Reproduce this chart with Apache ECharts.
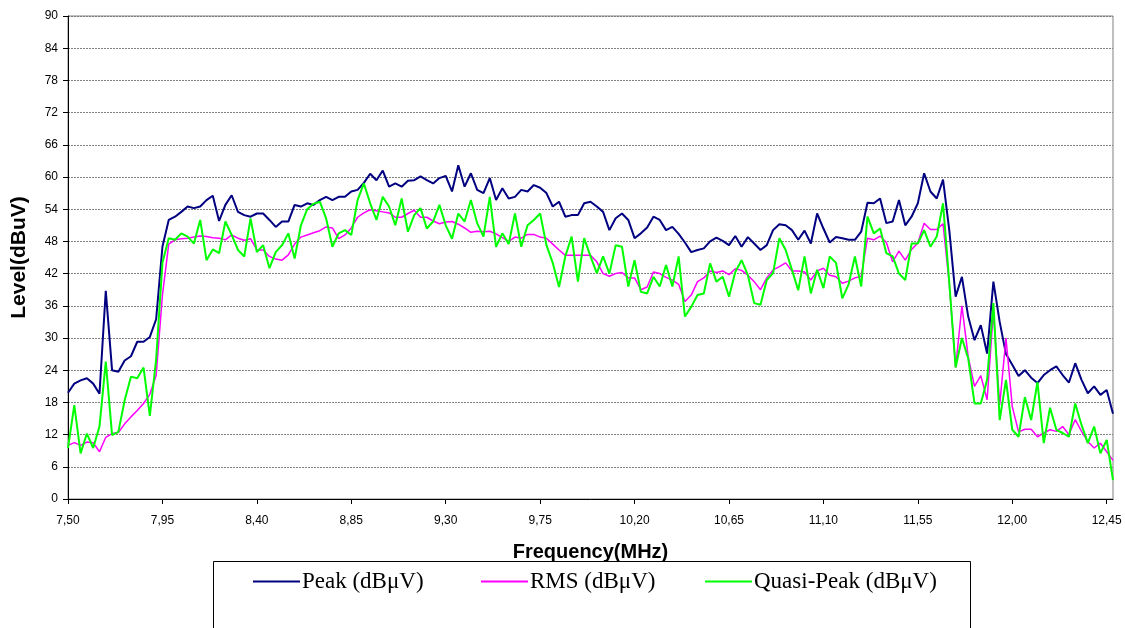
<!DOCTYPE html>
<html>
<head>
<meta charset="utf-8">
<script src="https://cdn.jsdelivr.net/npm/echarts@6/dist/echarts.min.js"></script>
<style>
  html, body { margin: 0; padding: 0; background: #fff; }
  #chart { width: 1125px; height: 628px; }
</style>
</head>
<body>
<div id="chart"></div>
<script>
// frequency grid, 7.50 .. 12.48 MHz, step 0.03
var freq = [];
for (var i = 0; i < 167; i++) { freq.push((7.5 + 0.03 * i).toFixed(2)); }

var peak = [
  19.8, 21.5, 22.1, 22.5, 21.5, 19.6, 38.8, 24.0, 23.7, 25.8,
  26.6, 29.3, 29.3, 30.2, 33.5, 47, 52, 52.6, 53.5, 54.5,
  54.2, 54.5, 55.7, 56.5, 51.8, 54.8, 56.6, 53.5, 52.9, 52.6,
  53.2, 53.2, 52, 50.7, 51.7, 51.7, 54.8, 54.5, 55.1, 54.8,
  55.7, 56.3, 55.7, 56.3, 56.3, 57.3, 57.6, 58.9, 60.6, 59.4,
  61.2, 58.2, 58.8, 58.2, 59.3, 59.4, 60.1, 59.4, 58.8, 59.8,
  60.2, 57.3, 62.2, 58.2, 60.7, 57.6, 57, 59.8, 55.7, 57.9,
  56, 56.3, 57.6, 57.3, 58.5, 58, 57, 54.5, 55.4, 52.6,
  52.9, 52.9, 55.1, 55.4, 54.5, 53.5, 50.1, 52.3, 53.2, 52,
  48.6, 49.5, 50.6, 52.6, 52, 50.1, 50.7, 49.4, 47.8, 46,
  46.4, 46.7, 48, 48.7, 48.1, 47.3, 49, 47, 48.8, 47.6,
  46.4, 47.3, 50.1, 51.2, 51, 50.1, 48.3, 50, 47.6, 53.2,
  50.4, 47.8, 48.8, 48.6, 48.3, 48.3, 49.8, 55.2, 55.1, 56,
  51.4, 51.7, 55.7, 51, 52.6, 55.1, 60.7, 57.3, 56, 59.5,
  50, 37.7, 41.4, 34, 29.6, 32.4, 27.1, 40.5, 33, 27,
  25, 22.9, 24, 22.6, 21.6, 23.1, 24, 24.7, 23.1, 21.7,
  25.3, 22.2, 19.7, 21, 19.4, 20.3, 15.9
];

var rms = [
  10.0, 10.5, 10.0, 10.6, 10.5, 8.8, 11.5, 12.2, 12.4, 14,
  15.3, 16.5, 17.8, 19.5, 23, 38, 47.5, 48.3, 48.5, 48.6,
  48.8, 49, 48.9, 48.7, 48.6, 48.3, 49.2, 48.6, 48.2, 48.5,
  46.4, 46.4, 45.2, 44.7, 44.5, 45.5, 47.5, 48.8, 49.2, 49.6,
  50, 50.7, 50.5, 48.5, 49.2, 50.5, 52.5, 53.3, 53.9, 53.7,
  53.5, 53.3, 52.5, 52.5, 53.2, 53.8, 52.5, 52.5, 51.8, 51.3,
  51.6, 51.7, 51.2, 50.5, 49.7, 49.9, 49.8, 49.9, 49.4, 48.7,
  48, 48.8, 48.6, 49.3, 49.3, 48.8, 48.6, 47.5, 46.4, 45.4,
  45.4, 45.4, 45.4, 45.4, 44.2, 42, 41.5, 42, 42.2, 41.2,
  41.2, 39, 39.5, 42.3, 42, 41.3, 40.8, 40, 36.8, 38,
  40.5, 41.2, 42.5, 42.2, 42.5, 41.8, 42.9, 42.6, 41.7, 40.5,
  39, 41.2, 42.7, 43.3, 44, 42.5, 42.5, 42.3, 40.8, 42.5,
  43, 41.7, 41.4, 40.2, 40.6, 41.2, 41.5, 48.6, 48.3, 49,
  47.8, 44.2, 46.2, 44.5, 46.5, 47.7, 51.4, 50.2, 50.2, 51.3,
  40, 24.5, 36, 26.5, 21, 23, 18.5, 35, 17.5, 30,
  17.2, 12.5, 13, 13, 11.6, 12.3, 12.9, 12.6, 13.5, 12,
  14.8, 12.6, 10.7, 9.5, 10.4, 8.8, 7.2
];

var quasiPeak = [
  9.5, 17.5, 8.5, 12.2, 9.5, 13.5, 25.6, 11.9, 12.5, 18.4,
  22.8, 22.5, 24.5, 15.5, 26, 44, 48.6, 48.3, 49.5, 48.9,
  47.6, 52, 44.5, 46.5, 45.8, 51.7, 49.2, 46.4, 45.2, 52.3,
  46, 47.3, 43, 46, 47.3, 49.5, 44.8, 51, 54, 55,
  55.4, 52.3, 47, 49.5, 50.1, 49.2, 55.7, 58.8, 55.1, 52,
  56.3, 54.5, 51, 56, 49.8, 52.9, 54.2, 50.4, 51.7, 54.8,
  51, 48.5, 53.2, 51.7, 55.7, 51.4, 48.9, 56.3, 47, 49.5,
  47.5, 53.2, 47, 51, 52, 53.2, 47.3, 44, 39.5, 45.2,
  48.9, 40.5, 48.6, 45.2, 42.1, 45.2, 42, 47.3, 47, 39.6,
  44.5, 38.6, 38.3, 41.4, 39.6, 43.6, 39.6, 45.2, 34, 35.8,
  38, 38.3, 43.9, 40.5, 41.4, 37.7, 42.3, 44.5, 41.7, 36.5,
  36.2, 40.8, 42.1, 48.6, 46.4, 42.7, 38.9, 45.2, 38.3, 42.7,
  39.3, 45.2, 44, 37.4, 40, 45.2, 39.6, 52.6, 49.5, 50.4,
  45.8, 45.2, 42, 40.8, 47.6, 47.6, 50.1, 47, 48.9, 55.1,
  40.2, 24.5, 30, 26.2, 17.8, 17.8, 22.2, 36.5, 14.7, 22.2,
  12.9, 11.6, 19, 14.7, 21.8, 10.4, 17, 12.9, 12.3, 11.6,
  17.8, 13.8, 10.4, 13.5, 8.5, 11, 3.5
];

var seriesNames = ['Peak (dBμV)', 'RMS (dBμV)', 'Quasi-Peak (dBμV)'];
var seriesColors = ['#000080', '#FF00FF', '#00FF00'];

var charts = echarts.init(document.getElementById('chart'));

function legendAt(left, name) {
    return {
        left: left,
        top: 565,
        data: [name],
        icon: 'rect',
        itemWidth: 47,
        itemHeight: 2,
        itemGap: 0,
        selectedMode: false,
        textStyle: {
            fontFamily: 'Liberation Serif',
            fontSize: 23,
            color: '#000',
            padding: [0, 0, 0, -3]
        }
    };
}

var option = {
    animation: false,
    grid: {
        left: 68,
        right: 12,
        top: 16,
        bottom: 129,
        show: true,
        borderColor: '#808080',
        borderWidth: 1
    },
    graphic: [
        {
            type: 'rect',
            z: 0,
            shape: { x: 213.5, y: 561.5, width: 757, height: 90 },
            style: { fill: '#fff', stroke: '#000', lineWidth: 1 }
        }
    ],
    legend: [
        legendAt(248, seriesNames[0]),
        legendAt(476, seriesNames[1]),
        legendAt(700, seriesNames[2])
    ],
    xAxis: {
        type: 'category',
        data: freq,
        boundaryGap: false,
        name: 'Frequency(MHz)',
        nameLocation: 'middle',
        nameGap: 43,
        nameTextStyle: {
            fontFamily: 'Liberation Sans',
            fontWeight: 'bold',
            fontSize: 20,
            color: '#000'
        },
        axisLine: { lineStyle: { color: '#000', width: 1 } },
        axisTick: { interval: 14, length: 5, lineStyle: { color: '#000' } },
        axisLabel: {
            interval: 14,
            margin: 16,
            fontFamily: 'Liberation Sans',
            fontSize: 12,
            color: '#000',
            formatter: function (v) { return v.replace('.', ','); }
        },
        splitLine: { show: false }
    },
    yAxis: {
        type: 'value',
        min: 0,
        max: 90,
        interval: 6,
        name: 'Level(dBuV)',
        nameLocation: 'middle',
        nameGap: 38,
        nameTextStyle: {
            fontFamily: 'Liberation Sans',
            fontWeight: 'bold',
            fontSize: 21,
            color: '#000'
        },
        axisLine: { show: true, lineStyle: { color: '#000', width: 1 } },
        axisTick: { show: true, length: 5, lineStyle: { color: '#000' } },
        axisLabel: {
            margin: 10,
            fontFamily: 'Liberation Sans',
            fontSize: 12,
            color: '#000'
        },
        splitLine: {
            show: true,
            lineStyle: { color: '#808080', type: [2, 1], width: 1 }
        }
    },
    series: [
        {
            name: seriesNames[0],
            type: 'line',
            data: peak,
            symbol: 'none',
            color: seriesColors[0],
            lineStyle: { width: 2, color: seriesColors[0] }
        },
        {
            name: seriesNames[1],
            type: 'line',
            data: rms,
            symbol: 'none',
            color: seriesColors[1],
            lineStyle: { width: 1.5, color: seriesColors[1] }
        },
        {
            name: seriesNames[2],
            type: 'line',
            data: quasiPeak,
            symbol: 'none',
            color: seriesColors[2],
            lineStyle: { width: 2, color: seriesColors[2] }
        }
    ]
};

//渲染图表
if (option && typeof option === "object") {
    charts.setOption(option, true);
}
</script>
</body>
</html>
